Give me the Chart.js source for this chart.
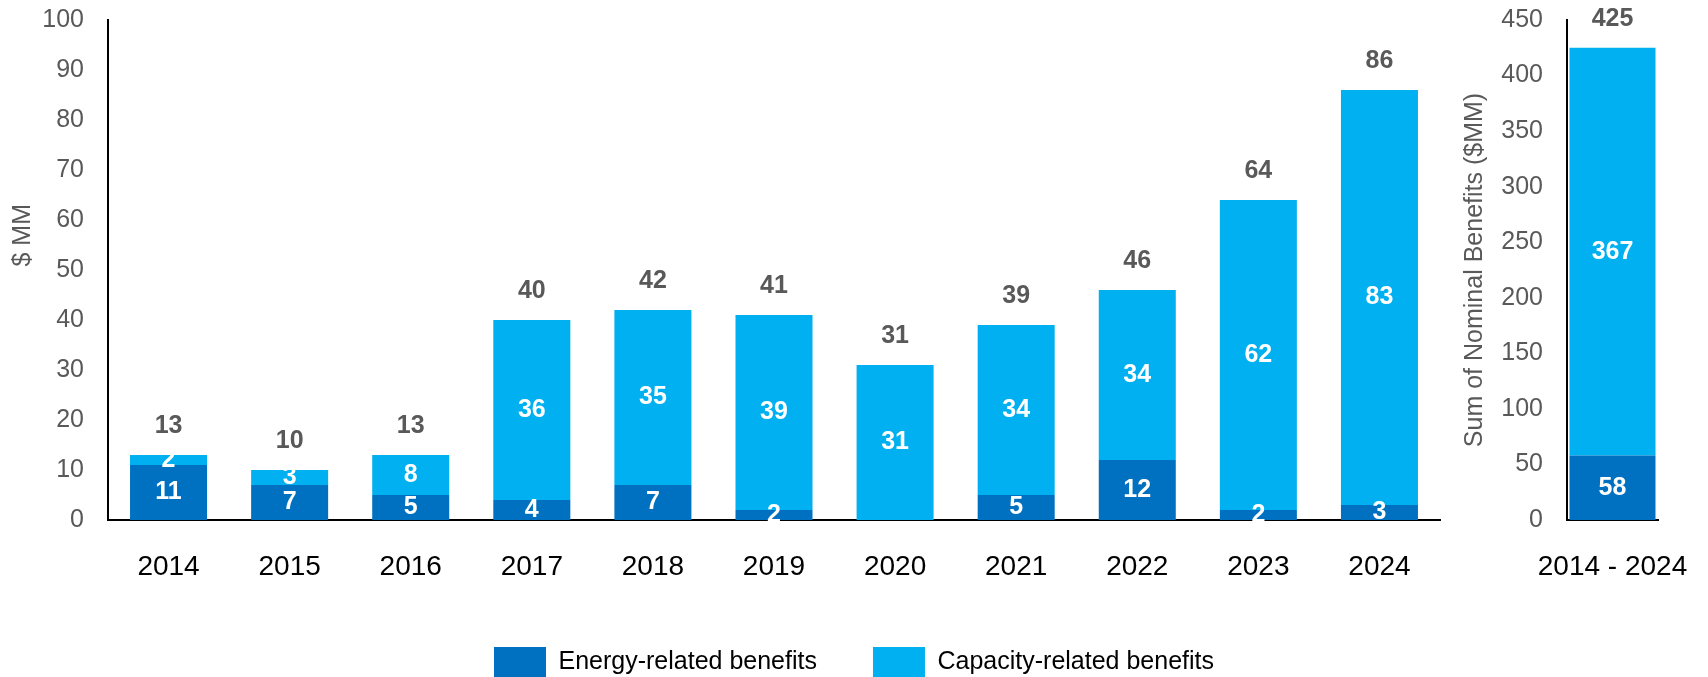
<!DOCTYPE html>
<html lang="en">
<head>
    <meta charset="UTF-8">
    <title>Energy and capacity benefits</title>
    <style>
        html, body {
            margin: 0;
            padding: 0;
            overflow: hidden;
            background: #fff;
        }
        #wrap {
            position: relative;
            width: 1708px;
            height: 687px;
        }
        #yearly {
            position: absolute;
            left: 0;
            top: 0;
        }
        #total {
            position: absolute;
            left: 1440px;
            top: 0;
        }
    </style>
</head>
<body>
    <div id="wrap">
        <canvas id="yearly" width="1708" height="687"></canvas>
        <canvas id="total" width="268" height="687"></canvas>
    </div>

    <script src="https://cdn.jsdelivr.net/npm/chart.js@4/dist/chart.umd.min.js"></script>
    <script>
        // yearly benefits, $ MM
        const years = ['2014', '2015', '2016', '2017', '2018', '2019', '2020', '2021', '2022', '2023', '2024'];
        const energyBenefits = [11, 7, 5, 4, 7, 2, 0, 5, 12, 2, 3];
        const capacityBenefits = [2, 3, 8, 36, 35, 39, 31, 34, 34, 62, 83];

        // cumulative panel
        const sumLabel = ['2014 - 2024'];
        const energySum = [58];
        const capacitySum = [367];

        const yearTicks = [0, 10, 20, 30, 40, 50, 60, 70, 80, 90, 100];
        const sumTicks = [0, 50, 100, 150, 200, 250, 300, 350, 400, 450];

        const DARK = '#0070C0';
        const LIGHT = '#00B0F0';
        const GREY = '#595959';
        const FONT = "'Liberation Sans', Arial, sans-serif";

        Chart.defaults.font.family = FONT;
        Chart.defaults.devicePixelRatio = 1;

        // writes segment values inside the bars and the stack total above
        const barLabels = {
            id: 'barLabels',
            afterDatasetsDraw(chart) {
                const ctx = chart.ctx;
                const sets = chart.data.datasets;
                ctx.save();
                ctx.textAlign = 'center';
                ctx.textBaseline = 'middle';
                ctx.font = 'bold 25px ' + FONT;
                sets.forEach((ds, di) => {
                    const meta = chart.getDatasetMeta(di);
                    meta.data.forEach((bar, i) => {
                        const v = ds.data[i];
                        if (!v) return;
                        ctx.fillStyle = '#fff';
                        ctx.fillText(String(v), bar.x, (bar.y + bar.base) / 2);
                    });
                });
                const topMeta = chart.getDatasetMeta(sets.length - 1);
                topMeta.data.forEach((bar, i) => {
                    let total = 0;
                    sets.forEach(ds => { total += ds.data[i]; });
                    ctx.fillStyle = GREY;
                    ctx.fillText(String(total), bar.x, bar.y - 29);
                });
                ctx.restore();
            }
        };

        function yAxis(ticks, width, title, titlePad) {
            return {
                stacked: true,
                min: ticks[0],
                max: ticks[ticks.length - 1],
                afterBuildTicks: s => { s.ticks = ticks.map(v => ({ value: v })); },
                afterFit: s => {
                    s.width = width;
                    s.paddingTop = 0;
                    s.paddingBottom = 0;
                },
                grid: { display: false, drawTicks: false },
                border: { display: true, color: '#000', width: 2 },
                ticks: { color: GREY, padding: 24, font: { size: 25 } },
                title: {
                    display: true,
                    text: title,
                    color: GREY,
                    font: { size: 25 },
                    padding: { top: titlePad, bottom: 0 }
                }
            };
        }

        function xAxis() {
            return {
                stacked: true,
                afterFit: s => {
                    s.height = 71;
                    s.paddingLeft = 0;
                    s.paddingRight = 0;
                },
                grid: { display: false, drawTicks: false },
                border: { display: true, color: '#000', width: 2 },
                ticks: { color: '#000', padding: 30, font: { size: 28 } }
            };
        }

        new Chart(document.getElementById('yearly'), {
            type: 'bar',
            data: {
                labels: years,
                datasets: [{
                    label: 'Energy-related benefits',
                    data: energyBenefits,
                    backgroundColor: DARK,
                    barPercentage: 0.636,
                    categoryPercentage: 1
                }, {
                    label: 'Capacity-related benefits',
                    data: capacityBenefits,
                    backgroundColor: LIGHT,
                    barPercentage: 0.636,
                    categoryPercentage: 1
                }]
            },
            options: {
                responsive: false,
                animation: false,
                layout: { padding: { top: 20, left: 0, right: 0, bottom: 0 } },
                scales: {
                    x: xAxis(),
                    y: yAxis(yearTicks, 108, '          $ MM', 8),
                    // keeps room on the right for the cumulative panel
                    room: {
                        type: 'linear',
                        position: 'right',
                        display: true,
                        afterFit: s => {
                            s.width = 268;
                            s.paddingTop = 0;
                            s.paddingBottom = 0;
                        },
                        grid: { display: false },
                        border: { display: false },
                        ticks: { display: false }
                    }
                },
                plugins: {
                    legend: {
                        position: 'bottom',
                        labels: {
                            boxWidth: 52,
                            boxHeight: 30,
                            padding: 56,
                            color: '#000',
                            font: { size: 25 }
                        }
                    },
                    tooltip: { enabled: false }
                }
            },
            plugins: [barLabels]
        });

        new Chart(document.getElementById('total'), {
            type: 'bar',
            data: {
                labels: sumLabel,
                datasets: [{
                    label: 'Energy-related benefits',
                    data: energySum,
                    backgroundColor: DARK,
                    barPercentage: 0.945,
                    categoryPercentage: 1
                }, {
                    label: 'Capacity-related benefits',
                    data: capacitySum,
                    backgroundColor: LIGHT,
                    barPercentage: 0.945,
                    categoryPercentage: 1
                }]
            },
            options: {
                responsive: false,
                animation: false,
                layout: { padding: { top: 20, left: 0, right: 50, bottom: 96 } },
                scales: {
                    x: xAxis(),
                    y: yAxis(sumTicks, 127, 'Sum of Nominal Benefits ($MM)', 20)
                },
                plugins: {
                    legend: { display: false },
                    tooltip: { enabled: false }
                }
            },
            plugins: [barLabels]
        });
    </script>
</body>
</html>
